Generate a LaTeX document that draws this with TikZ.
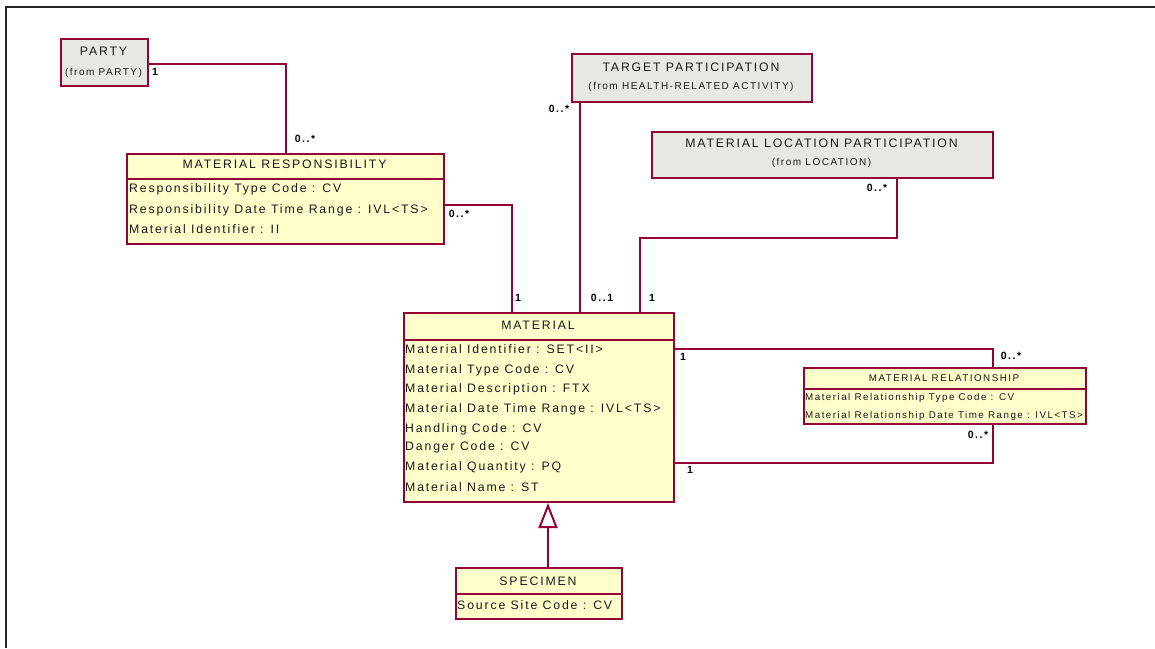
\documentclass[tikz,border=0pt]{standalone}
\usepackage{fontspec}
\usepackage{tikz}
\usetikzlibrary{calc,arrows.meta}
\newfontfamily\umlfont[LetterSpace=15]{Liberation Sans}
\definecolor{umlred}{RGB}{150,0,52}
\definecolor{umlyellow}{RGB}{255,255,204}
\definecolor{umlgray}{RGB}{232,232,226}
\definecolor{umltext}{RGB}{25,25,25}
\tikzset{
	classbox/.style={draw=umlred, line width=2pt, fill=umlyellow, anchor=north west, inner sep=0pt},
	refbox/.style={classbox, fill=umlgray},
	classline/.style={draw=umlred, line width=1.5pt},
	assoc/.style={draw=umlred, line width=2pt},
	attr/.style={inner sep=0pt, anchor=base west, text=umltext, font=\umlfont\fontsize{12.3}{14}\selectfont},
	smallattr/.style={attr, font=\umlfont\fontsize{9.8}{11}\selectfont},
	title/.style={attr, anchor=base},
	subtitle/.style={title, font=\umlfont\fontsize{10}{12}\selectfont},
	mult/.style={inner sep=0pt, text=black, font=\umlfont\bfseries\fontsize{10.5}{12}\selectfont}
}

\begin{document}
\begin{tikzpicture}[x=1pt, y=-1pt]
		%%%%% START %%%%%
		\useasboundingbox (0,0) rectangle (1155,648);
		
		\draw[line width=2pt, color=black!85] (6,648) -- (6,7) -- (1155,7);
		
		% boxes
		\node[refbox, minimum width=87pt, minimum height=47pt] (party) at (60,38) {};
		\node[refbox, minimum width=240pt, minimum height=48pt] (target) at (571,53) {};
		\node[refbox, minimum width=341pt, minimum height=46pt] (mlp) at (651,131) {};
		\node[classbox, minimum width=317pt, minimum height=90pt] (resp) at (126,153) {};
		\node[classbox, minimum width=270pt, minimum height=189pt] (material) at (403,312) {};
		\node[classbox, minimum width=282pt, minimum height=56pt] (rel) at (803,367) {};
		\node[classbox, minimum width=166pt, minimum height=51pt] (spec) at (455,567) {};
		
		\draw[classline] (126,179) -- (443,179);
		\draw[classline] (403,340) -- (673,340);
		\draw[classline] (803,389) -- (1085,389);
		\draw[classline] (455,594) -- (621,594);
		
		% texts
		\node[title] (party-t) at (103.5,55) {PARTY};
		\node[subtitle] (party-s) at (103.5,75) {(from PARTY)};
		
		\node[title] (target-t) at (691,71) {TARGET PARTICIPATION};
		\node[subtitle] (target-s) at (691,89) {(from HEALTH-RELATED ACTIVITY)};
		
		\node[title] (mlp-t) at (821.5,147) {MATERIAL LOCATION PARTICIPATION};
		\node[subtitle] (mlp-s) at (821.5,165) {(from LOCATION)};
		
		\node[title] (resp-t) at (284.5,168) {MATERIAL RESPONSIBILITY};
		\node[attr] (resp-a1) at (129,192) {Responsibility Type Code : CV};
		\node[attr] (resp-a2) at (129,213) {Responsibility Date Time Range : IVL<TS>};
		\node[attr] (resp-a3) at (129,233) {Material Identifier : II};
		
		\node[title] (material-t) at (538,329) {MATERIAL};
		\node[attr] (material-a1) at (405,353) {Material Identifier : SET<II>};
		\node[attr] (material-a2) at (405,373) {Material Type Code : CV};
		\node[attr] (material-a3) at (405,392) {Material Description : FTX};
		\node[attr] (material-a4) at (405,412) {Material Date Time Range : IVL<TS>};
		\node[attr] (material-a5) at (405,432) {Handling Code : CV};
		\node[attr] (material-a6) at (405,450) {Danger Code : CV};
		\node[attr] (material-a7) at (405,470) {Material Quantity : PQ};
		\node[attr] (material-a8) at (405,491) {Material Name : ST};
		
		\node[title, font=\umlfont\fontsize{9.8}{11}\selectfont] (rel-t) at (944,381) {MATERIAL RELATIONSHIP};
		\node[smallattr] (rel-a1) at (805,400) {Material Relationship Type Code : CV};
		\node[smallattr] (rel-a2) at (805,418) {Material Relationship Date Time Range : IVL<TS>};
		
		\node[title] (spec-t) at (538,585) {SPECIMEN};
		\node[attr] (spec-a1) at (457,609) {Source Site Code : CV};
		
		% associations
		\draw[assoc] ($(party.east)+(0,1.5)$) -| (resp.north);
		\draw[assoc] ($(resp.north east)+(0,52)$) -| ($(material.north west)+(109,0)$);
		\draw[assoc] ($(target.south west)+(9,0)$) -- ($(material.north west)+(177,0)$);
		\draw[assoc] ($(mlp.south west)+(246,0)$) -- ++(0,59) -| ($(material.north west)+(237,0)$);
		\draw[assoc] ($(material.north east)+(0,37)$) -| ($(rel.north west)+(190,0)$);
		\draw[assoc] ($(material.south east)+(0,-40)$) -| ($(rel.south west)+(190,0)$);
		
		% generalization
		\draw[assoc, -{Triangle[open, length=25pt, width=19pt, fill=white]}] ($(spec.north)+(9,0)$) -- ($(material.south)+(9,0)$);
		
		% multiplicities
		\node[mult] (m-party) at (155,72) {1};
		\node[mult] (m-resp1) at (305,139) {0..*};
		\node[mult] (m-resp2) at (459,214) {0..*};
		\node[mult] (m-mat1) at (518,298) {1};
		\node[mult] (m-target) at (559,109) {0..*};
		\node[mult] (m-mat2) at (602,298) {0..1};
		\node[mult] (m-mat3) at (652,298) {1};
		\node[mult] (m-mlp) at (877,188) {0..*};
		\node[mult] (m-mat4) at (683,357) {1};
		\node[mult] (m-rel1) at (1011,356) {0..*};
		\node[mult] (m-mat5) at (690,470) {1};
		\node[mult] (m-rel2) at (978,435) {0..*};
		
		%%%%% END %%%%%
	\end{tikzpicture}
\end{document}
